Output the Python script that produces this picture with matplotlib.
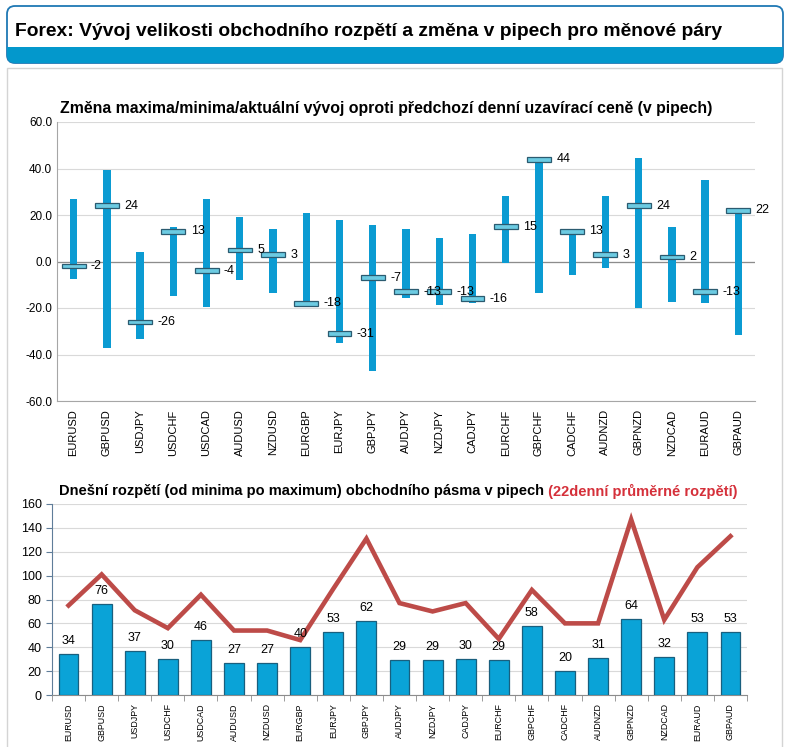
import matplotlib
matplotlib.use('Agg')
import matplotlib.pyplot as plt
from matplotlib.patches import FancyBboxPatch, Rectangle
import numpy as np

# currency pairs
pairs = ['EURUSD', 'GBPUSD', 'USDJPY', 'USDCHF', 'USDCAD', 'AUDUSD', 'NZDUSD',
         'EURGBP', 'EURJPY', 'GBPJPY', 'AUDJPY', 'NZDJPY', 'CADJPY', 'EURCHF',
         'GBPCHF', 'CADCHF', 'AUDNZD', 'GBPNZD', 'NZDCAD', 'EURAUD', 'GBPAUD']

# top chart: change vs previous close (pips)
highs = [27, 39.5, 4, 15, 27, 19, 14, 20.7, 18, 15.5, 13.8, 10.3, 12, 28, 45, 13.5, 28, 44.5, 15, 35, 22.5]
lows = [-7.5, -37, -33.5, -15, -19.5, -8, -13.5, -19.5, -35, -47, -15.5, -18.5, -18, -0.5, -13.5, -6, -3, -20, -17.5, -18, -31.5]
closes = [-2, 24, -26, 13, -4, 5, 3, -18, -31, -7, -13, -13, -16, 15, 44, 13, 3, 24, 2, -13, 22]

# bottom chart: today's range and 22-day average range
ranges = [34, 76, 37, 30, 46, 27, 27, 40, 53, 62, 29, 29, 30, 29, 58, 20, 31, 64, 32, 53, 53]
avg22 = [75, 101, 71, 56, 84, 54, 54, 46, 89, 131, 77, 70, 77, 47, 88, 60, 60, 147, 63, 107, 133]

W, H = 791, 747
fig = plt.figure(figsize=(W / 100, H / 100), dpi=100)
fig.patch.set_facecolor('white')


def px_axes(l, t, r, b):
    return fig.add_axes([l / W, 1 - b / H, (r - l) / W, (b - t) / H])


bg = fig.add_axes([0, 0, 1, 1])
bg.set_xlim(0, W)
bg.set_ylim(H, 0)
bg.axis('off')

# header box
hdr = FancyBboxPatch((7, 6), 776, 57, boxstyle='round,pad=0,rounding_size=8',
                     facecolor='white', edgecolor='#1f78b4', linewidth=1.3)
bg.add_patch(hdr)
strip = Rectangle((0, 47), W, 20, facecolor='#0398cc', edgecolor='none')
bg.add_patch(strip)
strip.set_clip_path(hdr)
bg.text(15, 31, 'Forex: Vývoj velikosti obchodního rozpětí a změna v pipech pro měnové páry',
        fontsize=13.9, fontweight='bold', va='center', ha='left',
        family=['Liberation Sans', 'DejaVu Sans'])

# panel
bg.add_patch(Rectangle((7, 68), 775, 700, facecolor='white', edgecolor='#d4d4d4', linewidth=1))

font = ['Liberation Sans', 'DejaVu Sans']
x = np.arange(len(pairs))
closes_arr = np.array(closes)

# ---- top chart ----
ax1 = px_axes(57, 122, 755, 401)
ax1.bar(x, np.array(highs) - np.array(lows), bottom=lows, width=0.22, color='#0b9bd2', zorder=3)
ax1.bar(x, 2.0, bottom=closes_arr - 1.0, width=0.72, color='#6ccbe2', edgecolor='#2b5b70',
        linewidth=0.9, zorder=4)
for xi, c in zip(x, closes):
    ax1.text(xi + 0.52, c, f'{c}', va='center', ha='left', fontsize=9, zorder=5, family=font)
ax1.set_xlim(-0.5, len(pairs) - 0.5)
ax1.set_ylim(-60, 60)
ax1.set_yticks(np.arange(-60, 61, 20))
ax1.set_yticklabels([f'{v:.1f}' for v in np.arange(-60, 61, 20)], fontsize=8.5, family=font)
ax1.grid(axis='y', color='#d9d9d9', linewidth=0.8, zorder=0)
ax1.axhline(0, color='#8c8c8c', linewidth=0.9, zorder=2)
ax1.set_xticks(x)
ax1.set_xticklabels(pairs, rotation=90, fontsize=8, family=font)
ax1.tick_params(axis='both', length=0)
ax1.tick_params(axis='x', pad=6)
for s in ['top', 'right']:
    ax1.spines[s].set_visible(False)
for s in ['left', 'bottom']:
    ax1.spines[s].set_color('#a6a6a6')
bg.text(60, 108.5, 'Změna maxima/minima/aktuální vývoj oproti předchozí denní uzavírací ceně (v pipech)',
        fontsize=11.4, fontweight='bold', va='center', ha='left', family=font)

# ---- bottom chart ----
ax2 = px_axes(52, 504, 747, 695)
ax2.bar(x, ranges, width=0.6, color='#0aa3d7', edgecolor='#195f7e', linewidth=0.9, zorder=3)
ax2.plot(x, avg22, color='#bd4b48', linewidth=3.3, zorder=4, solid_joinstyle='miter')
for xi, v in zip(x, ranges):
    ax2.annotate(f'{v}', (xi, v), xytext=(0, 5), textcoords='offset points',
                 ha='center', va='bottom', fontsize=9, family=font, zorder=5)
ax2.set_xlim(-0.5, len(pairs) - 0.5)
ax2.set_ylim(0, 160)
ax2.set_yticks(np.arange(0, 161, 20))
ax2.tick_params(axis='y', labelsize=9, length=4, color='#5f7d99')
for lbl in ax2.get_yticklabels():
    lbl.set_family(font)
ax2.grid(axis='y', color='#d9d9d9', linewidth=0.8, zorder=0)
ax2.set_xticks(x)
ax2.set_xticklabels(pairs, rotation=90, fontsize=6.4, family=font)
ax2.set_xticks(np.arange(-0.5, len(pairs), 1), minor=True)
ax2.tick_params(axis='x', which='major', length=0, pad=6)
ax2.tick_params(axis='x', which='minor', length=4, color='#8c8c8c')
for s in ['top', 'right']:
    ax2.spines[s].set_visible(False)
ax2.spines['left'].set_color('#5f7d99')
ax2.spines['bottom'].set_color('#8c8c8c')

t1 = bg.text(59, 491, 'Dnešní rozpětí (od minima po maximum) obchodního pásma v pipech',
             fontsize=10.5, fontweight='bold', va='center', ha='left', family=font)
bg.annotate(' (22denní průměrné rozpětí)', xy=(1, 0.5), xycoords=t1, va='center', ha='left',
            fontsize=10.5, fontweight='bold', color='#d5303a', family=font)

fig.savefig('out.png', dpi=100)
